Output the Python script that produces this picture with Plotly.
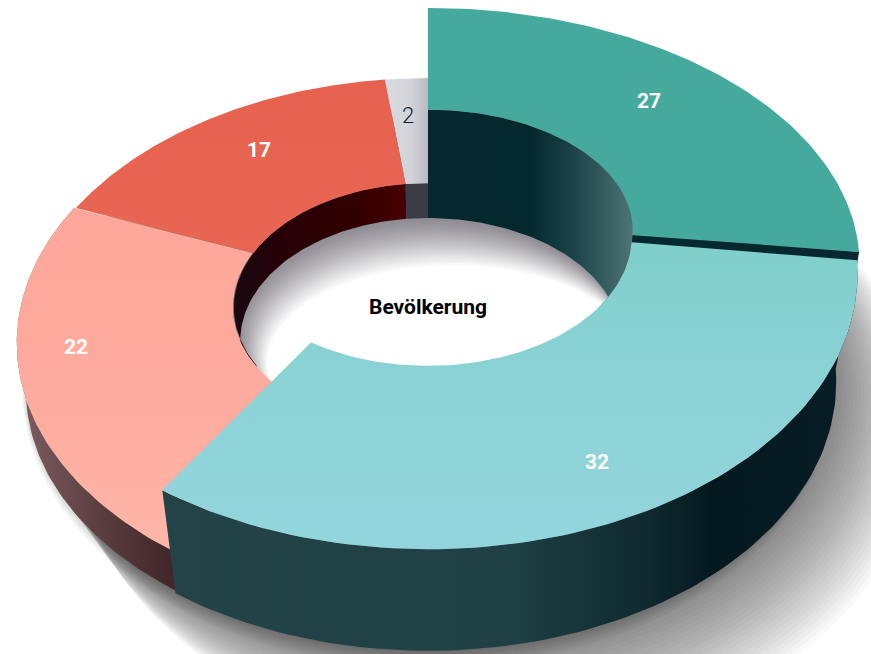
import numpy as np
import plotly.graph_objects as go

# --- data ---
slice_names = ["A", "B", "C", "D", "E"]
slice_values = [27, 32, 22, 17, 2]
slice_labels = ["27", "32", "22", "17", "2"]
center_label = "Bevölkerung"

# --- style / layout ---
W, H = 871, 654
CX, P, R_IN = 428.0, 0.174, 0.48
#                 sx    cy    sy
TOP = {"A": (425, 220, 249), "B": (423, 226, 267), "C": (405, 297, 257),
       "D": (403, 297, 257), "E": (403, 297, 257)}
FLOOR = (390, 331, 255)
FLOOR_A = (402, 331, 255)
CYAN_BASE = (402, 336, 260)
PINK_BASE = (396, 345, 250)
LABEL_POS = {"A": (649, 101), "B": (597, 462), "C": (76, 347), "D": (259, 150), "E": (408, 115)}

cum = np.cumsum([0] + slice_values) / sum(slice_values) * 2 * np.pi
ANG = {n: (cum[i], cum[i + 1]) for i, n in enumerate(slice_names)}


def proj(theta, r, plane):
    sx, cy, sy = plane
    theta = np.asarray(theta, dtype=float)
    u, v = r * np.sin(theta), r * np.cos(theta)
    w = 1 + P * v
    return CX + sx * u / w, cy - sy * v / w


def arc(a, b, r, plane, n=90):
    return proj(np.linspace(a, b, n), r, plane)


def join(*parts):
    xs = np.concatenate([p[0] for p in parts])
    ys = np.concatenate([p[1] for p in parts])
    return np.append(xs, xs[0]), np.append(ys, ys[0])


def lerp_hex(c1, c2, t):
    a = [int(c1[i:i + 2], 16) for i in (1, 3, 5)]
    b = [int(c2[i:i + 2], 16) for i in (1, 3, 5)]
    return "#" + "".join(f"{round(x + (y - x) * t):02x}" for x, y in zip(a, b))


fig = go.Figure()


def poly(xy, color=None, grad=None):
    kw = dict(x=xy[0], y=xy[1], mode="lines", fill="toself", line=dict(width=0),
              hoverinfo="skip", showlegend=False)
    if grad:
        kind, start, stop, scale = grad
        kw["fillgradient"] = dict(type=kind, start=start, stop=stop, colorscale=scale)
    else:
        kw["fillcolor"] = color
    fig.add_trace(go.Scatter(**kw))


def ellipse(cx, cy, rx, ry, n=160):
    t = np.linspace(0, 2 * np.pi, n)
    return cx + rx * np.cos(t), cy + ry * np.sin(t)


# drop shadow (soft edge built from stacked translucent layers)
for i in range(8):
    t = 1 - i / 7
    poly(ellipse(428, 380 + 8 * t, 402 + 4 * t, 272 + 8 * t), "rgba(40,35,45,0.03)")
N = 26
for i in range(N):
    t = 1 - i / (N - 1)
    poly(ellipse(428 + 70 * t, 380 + 50 * t, 404 + 20 * t, 272 + 46 * t), "rgba(40,35,45,0.0294)")

# hole floor with shading from the top edge
N = 22
for i in range(N):
    t = i / (N - 1)
    col = lerp_hex("#8f8b93", "#ffffff", t ** 1.25)
    poly(ellipse(428 + 25 * t, 333 + 30 * t, 191 - 5 * t, 116 - 18 * t), col)

# inner walls
D0, D1 = ANG["D"]
E0, E1 = ANG["E"]
poly(join(arc(np.radians(238), D1, R_IN, TOP["D"]), arc(D1, np.radians(238), R_IN, FLOOR)),
     grad=("horizontal", 234, 404, [[0, "#1a0712"], [0.3, "#270005"], [0.7, "#300000"], [1, "#470000"]]))
poly(join(arc(E0, E1, R_IN, TOP["E"]), arc(E1, E0, R_IN, FLOOR)), "#3a3c46")
A0, A1 = ANG["A"]
poly(join(arc(A0, A1, R_IN, TOP["A"]), arc(A1, A1 + 0.5, R_IN, TOP["B"]), arc(A1 + 0.5, A0, R_IN, FLOOR_A)),
     grad=("horizontal", 428, 632, [[0, "#06282e"], [0.5, "#03292f"], [0.72, "#1d4448"], [1, "#4c7375"]]))

# outer wall and top of the low slices
C0, C1 = ANG["C"]
poly(join(arc(C0, C1, 1, TOP["C"]), arc(C1, C0, 1, PINK_BASE)),
     grad=("horizontal", 25, 180, [[0, "#7a5c5f"], [0.5, "#5a3d3f"], [1, "#3f2326"]]))
poly(join(arc(E0, E1, 1, TOP["E"]), arc(E1, E0, R_IN, TOP["E"])),
     grad=("horizontal", 385, 428, [[0, "#dadbe1"], [0.6, "#d2d3da"], [1, "#b9bac3"]]))
poly(join(arc(D0, D1, 1, TOP["D"]), arc(D1, D0, R_IN, TOP["D"])),
     grad=("vertical", 80, 250, [[0, "#e6624e"], [1, "#e86652"]]))
poly(join(arc(C0, C1, 1, TOP["C"]), arc(C1, C0, R_IN, TOP["C"])),
     grad=("vertical", 210, 550, [[0, "#fda79a"], [0.6, "#fdac9f"], [1, "#ffb6a8"]]))

# raised slices
B0, B1 = ANG["B"]
poly(join(arc(B0, B1, 1, TOP["B"]), arc(B1, B0, 1, CYAN_BASE)),
     grad=("horizontal", 165, 850, [[0, "#234348"], [0.5, "#1f4045"], [0.7, "#0f2a30"], [0.8, "#04191f"], [1, "#081d25"]]))
poly(join(arc(A0, A1, 1, TOP["A"]), arc(A1, A0, R_IN, TOP["A"])), "#45a99d")
# dark cut between the two raised slices
oa, ia = proj(A1, 1, TOP["A"]), proj(A1, R_IN, TOP["A"])
ob, ib = proj(B0, 1, TOP["B"]), proj(B0, R_IN, TOP["B"])
poly(join(([oa[0]], [oa[1]]), ([ia[0]], [ia[1]]), ([ib[0]], [ib[1] + 4]), ([ob[0]], [ob[1] + 4])), "#05292f")
poly(join(arc(B0, B1, 1, TOP["B"]), arc(B1, B0, R_IN, TOP["B"])),
     grad=("vertical", 250, 540, [[0, "#80cfcb"], [0.25, "#87d1d2"], [1, "#93d5dc"]]))

fig.update_xaxes(range=[0, W], visible=False, fixedrange=True)
fig.update_yaxes(range=[H, 0], visible=False, fixedrange=True)

ann = []
for n, lab in zip(slice_names, slice_labels):
    x, y = LABEL_POS[n]
    thin = n == "E"
    ann.append(dict(x=x, y=y, text=lab, showarrow=False, xref="x", yref="y",
                    font=dict(family="Roboto", size=22 if thin else 21,
                              color="#1c1c1c" if thin else "#ffffff",
                              weight=300 if thin else 700)))
ann.append(dict(x=428, y=307, text=center_label, showarrow=False, xref="x", yref="y",
                font=dict(family="Roboto", size=21, color="#000000", weight=700)))

fig.update_layout(width=W, height=H, margin=dict(l=0, r=0, t=0, b=0),
                  paper_bgcolor="#ffffff", plot_bgcolor="#ffffff",
                  showlegend=False, annotations=ann)
fig.write_html("out.html", config=dict(displayModeBar=False),
               post_script="document.body.style.margin='0';document.body.style.overflow='hidden';")
